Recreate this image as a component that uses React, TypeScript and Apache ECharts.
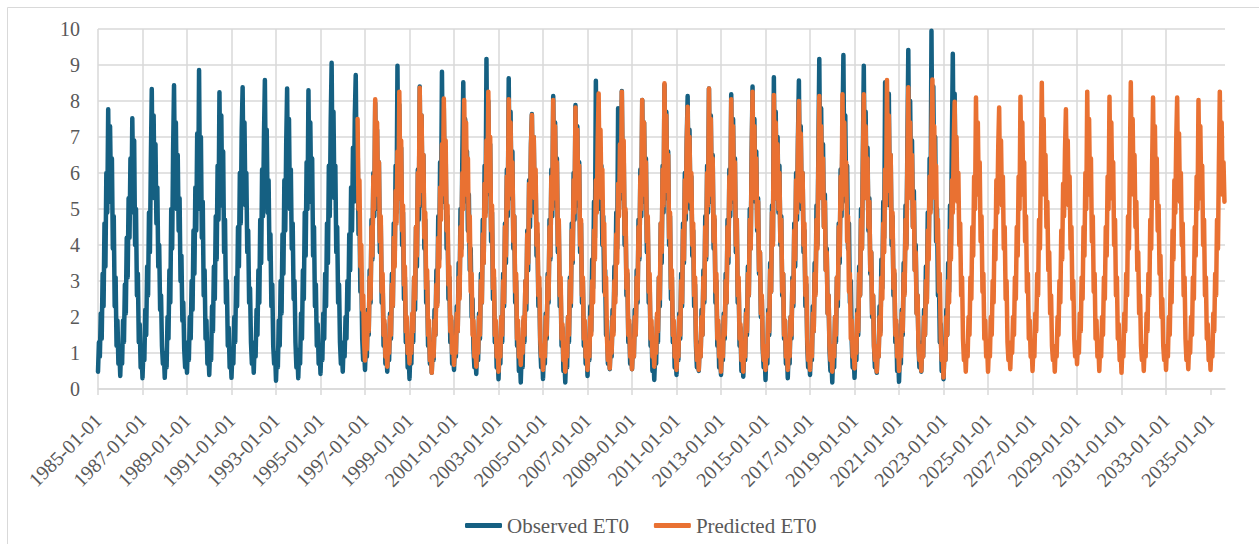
import React, { useEffect, useRef } from "react";
import * as echarts from "echarts";

// Tick labels on the x axis (every second year)
const xTickYears = [1985, 1987, 1989, 1991, 1993, 1995, 1997, 1999, 2001, 2003, 2005, 2007, 2009, 2011, 2013, 2015, 2017, 2019, 2021, 2023, 2025, 2027, 2029, 2031, 2033, 2035];
const yTicks = [0, 1, 2, 3, 4, 5, 6, 7, 8, 9, 10];
const seriesNames = ["Observed ET0", "Predicted ET0"];
const seriesColors = ["#156082", "#E97132"];

// Semi-monthly readings (1st and 16th of each month), one row per year.
const observedFirstYear = 1985;
const observedStartSlot = 0; // 1985-01-01
const observedET0: number[][] = [
  [0.48,1.3,0.9,2.1,1.4,3.2,2.3,4.6,3.4,6.0,4.9,7.77,5.2,7.3,5.4,6.4,3.9,4.8,2.3,3.1,1.2,1.9,0.7,1.1], // 1985
  [0.36,1.2,0.7,1.9,1.3,2.9,2.1,4.2,3.1,5.3,4.2,6.4,4.9,7.52,5.6,6.9,4.0,5.0,2.6,3.2,1.3,1.8,0.6,1.0], // 1986
  [0.30,1.1,0.8,2.2,1.5,3.4,2.6,4.9,3.8,6.3,8.33,5.4,7.6,5.3,6.8,4.6,5.6,3.4,4.0,2.2,2.6,1.2,0.7,1.0], // 1987
  [0.31,1.0,0.6,2.0,1.4,3.3,2.4,5.0,3.9,6.6,8.44,5.8,7.4,5.0,6.5,4.4,5.3,3.0,3.7,1.9,2.4,1.1,0.6,1.0], // 1988
  [0.45,1.3,0.8,2.0,1.4,3.0,2.2,4.4,3.2,5.6,4.4,7.1,5.0,8.86,5.4,7.0,4.2,5.2,2.6,3.3,1.4,1.9,0.7,1.1], // 1989
  [0.39,1.2,0.8,2.3,1.6,3.4,2.5,4.8,3.6,6.2,4.7,8.24,5.6,7.6,5.1,6.6,3.8,4.7,2.4,3.0,1.2,1.7,0.6,1.0], // 1990
  [0.31,1.1,0.7,2.0,1.3,3.1,2.3,4.5,3.4,6.0,4.6,7.2,8.38,5.5,7.4,5.1,6.0,3.8,4.4,2.4,2.8,1.3,0.7,1.1], // 1991
  [0.45,1.3,0.9,2.2,1.5,3.3,2.4,4.7,3.5,6.1,4.8,7.0,8.58,5.7,7.2,4.9,5.8,3.6,4.3,2.3,2.9,1.2,0.7,1.0], // 1992
  [0.23,1.0,0.6,1.9,1.2,3.0,2.1,4.3,3.2,5.8,4.4,6.8,8.35,5.3,7.5,5.0,6.1,3.9,4.6,2.5,3.0,1.3,0.6,1.0], // 1993
  [0.30,1.1,0.7,2.1,1.4,3.3,2.5,4.9,3.7,6.3,5.0,8.30,5.5,7.4,5.2,6.4,3.7,4.5,2.3,2.9,1.2,1.8,0.7,1.1], // 1994
  [0.42,1.2,0.8,2.1,1.4,3.2,2.3,4.6,3.5,6.2,4.8,7.4,9.06,5.8,7.7,5.3,6.2,3.8,4.5,2.4,2.9,1.3,0.7,1.1], // 1995
  [0.48,1.3,0.9,2.0,1.4,3.0,2.2,4.3,3.3,5.6,4.4,6.7,5.2,7.6,8.72,5.9,7.0,4.3,5.0,2.7,3.2,1.4,0.8,1.1], // 1996
  [0.53,1.3,0.9,2.2,1.5,3.3,2.4,4.7,3.6,6.0,4.8,7.95,5.4,7.2,5.0,6.3,3.8,4.6,2.4,3.0,1.2,1.8,0.7,1.0], // 1997
  [0.48,1.2,0.8,2.1,1.4,3.2,2.3,4.6,3.5,6.2,4.9,8.98,5.6,7.9,5.3,6.7,4.0,4.9,2.5,3.1,1.3,1.8,0.6,1.0], // 1998
  [0.28,1.1,0.7,2.0,1.3,3.1,2.2,4.5,3.4,6.1,4.7,8.40,5.5,7.6,5.1,6.5,3.9,4.7,2.4,3.0,1.2,1.7,0.7,1.1], // 1999
  [0.45,1.3,0.8,2.2,1.5,3.3,2.4,4.8,3.6,6.3,5.0,8.81,5.7,7.8,5.2,6.6,3.9,4.8,2.5,3.1,1.3,1.9,0.7,1.0], // 2000
  [0.53,1.3,0.9,2.3,1.6,3.5,2.6,5.0,3.9,6.5,8.52,5.6,7.5,5.2,6.6,4.4,5.4,3.3,3.9,2.0,2.5,1.1,0.6,1.0], // 2001
  [0.42,1.2,0.8,2.1,1.4,3.2,2.4,4.7,3.5,6.2,4.9,9.17,5.8,8.0,5.4,6.8,4.1,4.9,2.5,3.1,1.3,1.8,0.6,1.0], // 2002
  [0.27,1.1,0.7,2.0,1.3,3.2,2.3,4.6,3.5,6.1,4.8,8.63,5.6,7.7,5.3,6.6,3.9,4.8,2.4,3.0,1.2,1.7,0.5,0.9], // 2003
  [0.18,1.0,0.6,1.9,1.3,3.0,2.2,4.4,3.3,5.8,4.5,6.8,7.64,5.3,7.0,4.9,5.9,3.7,4.3,2.3,2.8,1.2,0.6,1.0], // 2004
  [0.28,1.1,0.7,2.1,1.4,3.2,2.4,4.7,3.6,6.1,4.8,8.14,5.5,7.4,5.1,6.4,3.8,4.6,2.3,2.9,1.2,1.7,0.5,0.9], // 2005
  [0.18,1.0,0.6,2.0,1.3,3.1,2.3,4.6,3.5,6.0,4.7,7.89,5.4,7.3,5.1,6.3,3.8,4.6,2.4,3.0,1.2,1.8,0.7,1.1], // 2006
  [0.36,1.2,0.8,2.3,1.6,3.6,2.8,5.2,4.2,8.56,5.8,7.6,5.4,7.0,5.0,6.2,4.0,4.8,2.7,3.3,1.5,1.9,0.7,1.1], // 2007
  [0.55,1.3,0.9,2.2,1.6,3.4,2.6,4.9,3.9,7.8,5.0,6.8,5.3,8.28,5.6,6.6,4.0,4.9,2.6,3.2,1.3,1.8,0.7,1.1], // 2008
  [0.55,1.3,0.9,2.2,1.5,3.3,2.4,4.7,3.6,6.1,4.8,8.03,5.5,7.4,5.2,6.4,3.8,4.6,2.4,3.0,1.2,1.7,0.5,0.9], // 2009
  [0.25,1.0,0.7,2.0,1.3,3.1,2.3,4.6,3.5,6.2,4.9,8.45,5.6,7.7,5.3,6.6,4.0,4.8,2.5,3.1,1.3,1.8,0.6,1.0], // 2010
  [0.39,1.2,0.8,2.1,1.4,3.2,2.3,4.6,3.5,6.0,4.7,6.9,8.14,5.5,7.2,5.0,5.9,3.7,4.4,2.3,2.9,1.2,0.6,1.0], // 2011
  [0.50,1.3,0.9,2.2,1.5,3.3,2.4,4.8,3.6,6.2,4.9,8.35,5.6,7.6,5.2,6.5,3.9,4.7,2.4,3.0,1.2,1.8,0.6,1.0], // 2012
  [0.39,1.2,0.8,2.1,1.4,3.2,2.4,4.7,3.5,6.1,4.8,8.19,5.5,7.5,5.2,6.4,3.8,4.7,2.4,3.0,1.2,1.7,0.5,0.9], // 2013
  [0.34,1.1,0.8,2.2,1.5,3.4,2.6,5.0,3.9,6.5,8.40,5.7,7.5,5.2,6.6,4.4,5.3,3.2,3.8,2.0,2.5,1.1,0.6,1.0], // 2014
  [0.25,1.1,0.7,2.2,1.5,3.5,2.7,5.1,4.1,8.66,5.6,7.7,5.3,7.0,4.9,6.2,4.0,4.8,2.6,3.2,1.4,1.9,0.7,1.1], // 2015
  [0.30,1.1,0.7,2.0,1.4,3.1,2.3,4.6,3.4,6.0,4.7,7.0,8.57,5.5,7.3,5.0,6.0,3.8,4.4,2.3,2.9,1.2,0.6,1.0], // 2016
  [0.39,1.2,0.8,2.3,1.6,3.5,2.7,5.1,4.0,6.6,9.17,5.8,7.8,5.3,6.8,4.5,5.4,3.3,3.9,2.1,2.6,1.1,0.5,0.9], // 2017
  [0.18,1.0,0.6,2.0,1.3,3.1,2.3,4.6,3.5,6.1,4.8,7.2,9.28,5.8,7.6,5.2,6.2,3.9,4.6,2.4,3.0,1.3,0.6,1.0], // 2018
  [0.31,1.1,0.8,2.2,1.5,3.4,2.6,5.0,3.9,6.5,8.98,5.7,7.7,5.3,6.7,4.4,5.3,3.2,3.8,2.0,2.6,1.2,0.6,1.0], // 2019
  [0.45,1.2,0.9,2.3,1.6,3.6,2.8,5.2,4.2,8.52,5.7,7.6,5.4,8.2,5.1,6.5,4.0,4.8,2.6,3.2,1.3,1.8,0.5,0.9], // 2020
  [0.20,1.0,0.7,2.2,1.5,3.5,2.7,5.1,4.0,6.7,9.42,5.9,8.0,5.4,6.9,4.5,5.5,3.3,4.0,2.1,2.6,1.2,0.6,1.0], // 2021
  [0.48,1.3,0.9,2.2,1.5,3.4,2.5,4.9,3.7,6.4,5.0,9.95,6.0,8.4,5.5,7.0,4.1,5.0,2.6,3.2,1.3,1.8,0.5,0.9], // 2022
  [0.27,1.1,0.8,2.2,1.5,3.5,2.7,5.1,4.0,6.8,9.31,6.0,8.2,5.4,6.0], // 2023 (to Aug)
];

const predictedFirstYear = 1996;
const predictedStartSlot = 16; // 1996-09-01
const predictedET0: number[][] = [
  [7.5,5.0,5.8,3.4,4.0,2.2,2.6,1.3], // 1996 (from Sep)
  [0.79,1.4,1.1,2.1,1.6,3.1,2.5,4.5,3.7,5.9,5.0,8.05,5.8,7.4,5.4,6.3,4.1,4.8,2.7,3.2,1.5,1.9,0.9,1.2], // 1997
  [0.62,1.3,1.0,2.0,1.5,2.9,2.3,4.2,3.4,5.5,4.6,6.6,5.3,8.26,5.8,6.9,4.4,5.1,2.9,3.4,1.6,2.0,1.0,1.3], // 1998
  [0.71,1.4,1.0,2.1,1.6,3.1,2.5,4.5,3.7,6.0,5.1,8.37,5.9,7.6,5.5,6.5,4.2,4.9,2.8,3.3,1.5,1.9,0.8,1.1], // 1999
  [0.45,1.2,0.9,1.9,1.5,2.9,2.3,4.2,3.4,5.6,4.7,6.8,5.4,8.07,5.7,6.9,4.4,5.1,2.9,3.4,1.6,2.0,1.0,1.3], // 2000
  [0.67,1.3,1.0,2.1,1.6,3.1,2.5,4.5,3.7,6.0,5.0,8.03,5.8,7.4,5.4,6.4,4.1,4.8,2.7,3.2,1.5,1.9,0.9,1.2], // 2001
  [0.62,1.3,1.0,2.0,1.5,3.0,2.4,4.3,3.5,5.7,4.8,6.9,5.5,8.26,5.8,7.0,4.4,5.1,2.8,3.3,1.5,1.9,0.9,1.2], // 2002
  [0.48,1.2,0.9,2.0,1.5,3.0,2.4,4.5,3.7,5.9,5.0,8.05,5.7,7.4,5.4,6.3,4.1,4.8,2.7,3.2,1.4,1.9,0.9,1.2], // 2003
  [0.67,1.3,1.0,2.0,1.5,3.0,2.4,4.3,3.5,5.7,4.8,6.7,7.61,5.6,7.0,5.3,6.1,4.0,4.6,2.6,3.1,1.4,0.9,1.2], // 2004
  [0.53,1.2,0.9,2.0,1.5,3.1,2.5,4.5,3.7,5.9,5.0,8.03,5.7,7.3,5.3,6.3,4.0,4.7,2.6,3.1,1.4,1.8,0.8,1.1], // 2005
  [0.48,1.2,0.9,2.0,1.5,3.0,2.4,4.4,3.6,5.8,4.9,7.82,5.7,7.2,5.3,6.2,4.0,4.7,2.6,3.1,1.4,1.9,0.9,1.2], // 2006
  [0.53,1.2,0.9,2.0,1.5,3.0,2.4,4.4,3.6,5.8,4.9,6.9,8.21,5.7,7.2,5.3,6.1,4.0,4.6,2.6,3.1,1.4,0.8,1.1], // 2007
  [0.57,1.3,1.0,2.0,1.5,3.0,2.4,4.3,3.5,5.7,4.8,6.8,5.5,8.26,5.8,6.9,4.3,5.0,2.8,3.3,1.5,1.9,0.9,1.2], // 2008
  [0.55,1.2,0.9,2.0,1.5,3.1,2.5,4.5,3.7,5.9,5.0,8.03,5.7,7.4,5.4,6.3,4.1,4.8,2.7,3.2,1.4,1.9,0.9,1.2], // 2009
  [0.62,1.3,1.0,2.1,1.6,3.1,2.5,4.6,3.8,6.1,5.1,8.49,5.9,7.6,5.5,6.5,4.2,4.9,2.8,3.3,1.5,1.9,0.9,1.2], // 2010
  [0.53,1.2,0.9,2.0,1.5,3.0,2.4,4.4,3.6,5.8,4.9,6.8,7.84,5.6,7.0,5.2,6.0,4.0,4.6,2.6,3.1,1.4,0.8,1.1], // 2011
  [0.53,1.2,0.9,2.0,1.5,3.1,2.5,4.5,3.7,6.0,5.1,8.35,5.8,7.5,5.4,6.4,4.1,4.8,2.7,3.2,1.4,1.9,0.9,1.2], // 2012
  [0.48,1.2,0.9,2.0,1.5,3.0,2.4,4.5,3.7,5.9,5.0,8.05,5.7,7.3,5.3,6.3,4.0,4.7,2.6,3.1,1.4,1.8,0.8,1.1], // 2013
  [0.48,1.2,0.9,2.1,1.6,3.2,2.6,4.7,3.9,6.2,8.26,5.6,7.3,5.3,6.4,4.5,5.2,3.3,3.8,2.1,2.6,1.2,0.8,1.1], // 2014
  [0.53,1.2,0.9,2.1,1.6,3.3,2.7,4.9,4.0,8.17,5.5,7.4,5.3,6.8,5.0,6.0,4.1,4.7,2.7,3.2,1.5,1.9,0.9,1.2], // 2015
  [0.53,1.2,0.9,2.0,1.5,3.0,2.4,4.4,3.6,5.8,4.9,6.8,8.00,5.6,7.1,5.2,6.0,4.0,4.6,2.6,3.1,1.4,0.8,1.1], // 2016
  [0.53,1.2,0.9,2.1,1.6,3.2,2.6,4.7,3.9,6.2,8.14,5.6,7.3,5.3,6.4,4.5,5.2,3.3,3.8,2.1,2.6,1.2,0.8,1.1], // 2017
  [0.48,1.2,0.9,2.0,1.5,3.1,2.5,4.5,3.7,5.9,5.0,8.19,5.8,7.4,5.4,6.3,4.1,4.8,2.7,3.2,1.4,1.9,0.9,1.2], // 2018
  [0.57,1.3,1.0,2.1,1.6,3.2,2.6,4.7,3.9,6.2,8.19,5.6,7.3,5.3,6.4,4.5,5.2,3.3,3.8,2.1,2.6,1.2,0.8,1.1], // 2019
  [0.48,1.2,0.9,2.0,1.5,3.1,2.5,4.6,3.8,6.1,5.1,8.58,5.9,7.6,5.5,6.5,4.2,4.9,2.8,3.3,1.5,1.9,0.9,1.2], // 2020
  [0.50,1.2,0.9,2.1,1.6,3.2,2.6,4.7,3.9,6.3,8.38,5.7,7.4,5.3,6.5,4.5,5.2,3.3,3.8,2.1,2.6,1.2,0.8,1.1], // 2021
  [0.50,1.2,0.9,2.0,1.5,3.0,2.4,4.4,3.6,5.9,4.9,7.0,8.60,5.7,7.3,5.3,6.2,4.1,4.7,2.7,3.2,1.4,0.8,1.1], // 2022
  [0.32,1.1,0.8,2.0,1.5,3.0,2.4,4.4,3.6,5.8,4.9,6.8,7.98,5.6,7.0,5.2,6.0,4.0,4.6,2.6,3.1,1.4,0.8,1.1], // 2023
  [0.48,1.2,0.9,2.0,1.5,3.1,2.5,4.5,3.7,5.9,5.0,8.10,5.7,7.4,5.4,6.3,4.1,4.8,2.7,3.2,1.4,1.9,0.9,1.2], // 2024
  [0.48,1.2,0.9,2.0,1.5,3.0,2.4,4.4,3.6,5.8,4.9,6.7,7.82,5.5,6.9,5.1,5.9,3.9,4.5,2.5,3.0,1.3,0.8,1.1], // 2025
  [0.55,1.3,1.0,2.0,1.5,3.1,2.5,4.5,3.7,5.9,5.0,8.12,5.7,7.4,5.4,6.3,4.1,4.8,2.7,3.2,1.4,1.9,0.9,1.2], // 2026
  [0.50,1.2,0.9,2.1,1.6,3.2,2.6,4.7,3.9,6.3,8.51,5.8,7.5,5.4,6.5,4.5,5.2,3.3,3.8,2.1,2.6,1.2,0.8,1.1], // 2027
  [0.48,1.2,0.9,2.0,1.5,3.0,2.4,4.4,3.6,5.7,4.8,6.6,7.77,5.5,6.9,5.1,5.9,3.9,4.5,2.5,3.0,1.4,0.9,1.3], // 2028
  [0.69,1.3,1.0,2.1,1.6,3.1,2.5,4.5,3.7,6.0,5.0,8.26,5.8,7.5,5.4,6.4,4.1,4.8,2.7,3.2,1.4,1.9,0.9,1.2], // 2029
  [0.50,1.2,0.9,2.0,1.5,3.1,2.5,4.5,3.7,5.9,5.0,8.12,5.7,7.4,5.3,6.3,4.0,4.7,2.6,3.1,1.4,1.8,0.8,1.1], // 2030
  [0.45,1.2,0.9,2.1,1.6,3.2,2.6,4.8,3.9,6.3,8.52,5.8,7.5,5.4,6.5,4.5,5.2,3.3,3.8,2.1,2.6,1.2,0.8,1.1], // 2031
  [0.50,1.2,0.9,2.1,1.6,3.2,2.6,4.7,3.9,6.2,8.10,5.6,7.3,5.3,6.4,4.4,5.1,3.2,3.7,2.0,2.5,1.2,0.8,1.1], // 2032
  [0.53,1.2,0.9,2.0,1.5,3.0,2.4,4.4,3.6,5.8,4.9,6.9,8.10,5.6,7.1,5.2,6.0,4.0,4.6,2.6,3.1,1.4,0.8,1.1], // 2033
  [0.55,1.3,1.0,2.0,1.5,3.1,2.5,4.5,3.7,5.9,5.0,8.03,5.7,7.3,5.3,6.2,4.0,4.7,2.6,3.1,1.4,1.8,0.8,1.1], // 2034
  [0.53,1.2,0.9,2.1,1.6,3.2,2.6,4.7,3.9,6.2,8.26,5.7,7.4,5.4,6.3,5.2], // 2035 (to Aug)
];

const BASE_YEAR = 1985;
const SLOTS_PER_YEAR = 24;

function toPoints(rows: number[][], firstYear: number, firstSlot: number) {
  const pts: [number, number][] = [];
  rows.forEach((row, r) => {
    const start = r === 0 ? firstSlot : 0;
    row.forEach((v, i) => {
      pts.push([firstYear + r - BASE_YEAR + (start + i) / SLOTS_PER_YEAR, v]);
    });
  });
  return pts;
}

const FONT = "Liberation Serif";
const GRID = "#d9d9d9";
const TEXT = "#595959";

export default function App() {
  const ref = useRef<HTMLDivElement>(null);
  useEffect(() => {
    if (!ref.current) return;
    const chart = echarts.init(ref.current, undefined, { renderer: "svg" });
    const tickVals = xTickYears.map((y) => y - BASE_YEAR);
    chart.setOption({
      animation: false,
      backgroundColor: "#ffffff",
      textStyle: { fontFamily: FONT },
      graphic: [
        {
          type: "rect",
          z: -10,
          shape: { x: 7.5, y: 7.5, width: 1300, height: 600 },
          style: { fill: "none", stroke: GRID, lineWidth: 1 },
          silent: true,
        },
      ],
      grid: { left: 98, right: 34, top: 29, bottom: 155, containLabel: false },
      legend: {
        left: 460,
        top: 510,
        icon: "roundRect",
        itemWidth: 37,
        itemHeight: 5,
        itemGap: 25,
        textStyle: { fontFamily: FONT, fontSize: 21, color: TEXT },
        data: seriesNames,
      },
      xAxis: {
        type: "value",
        min: 0,
        max: 50.65,
        interval: 2,
        axisLine: { show: true, lineStyle: { color: GRID, width: 1.5 } },
        axisTick: { show: true, length: 6, customValues: tickVals, lineStyle: { color: GRID, width: 1.5 } },
        splitLine: { show: true, showMaxLine: false, lineStyle: { color: GRID, width: 1.5 } },
        axisLabel: {
          customValues: tickVals,
          rotate: 45,
          margin: 28,
          color: TEXT,
          fontFamily: FONT,
          fontSize: 20,
          formatter: (v: number) => (Number.isInteger(v) ? `${BASE_YEAR + v}-01-01` : ""),
        },
      },
      yAxis: {
        type: "value",
        min: yTicks[0],
        max: yTicks[yTicks.length - 1],
        interval: 1,
        axisLine: { show: false },
        axisTick: { show: false },
        splitLine: { show: true, lineStyle: { color: GRID, width: 1.5 } },
        axisLabel: { margin: 18, color: TEXT, fontFamily: FONT, fontSize: 20 },
      },
      series: [
        {
          name: seriesNames[0],
          type: "line",
          showSymbol: false,
          symbol: "none",
          data: toPoints(observedET0, observedFirstYear, observedStartSlot),
          lineStyle: { color: seriesColors[0], width: 4.5, join: "round", cap: "round" },
          itemStyle: { color: seriesColors[0] },
          z: 2,
        },
        {
          name: seriesNames[1],
          type: "line",
          showSymbol: false,
          symbol: "none",
          data: toPoints(predictedET0, predictedFirstYear, predictedStartSlot),
          lineStyle: { color: seriesColors[1], width: 4.5, join: "round", cap: "round" },
          itemStyle: { color: seriesColors[1] },
          z: 3,
        },
      ],
    });
    return () => chart.dispose();
  }, []);
  return (
    <div
      ref={ref}
      style={{ position: "absolute", left: 0, top: 0, width: 1259, height: 544, background: "#fff" }}
    />
  );
}
